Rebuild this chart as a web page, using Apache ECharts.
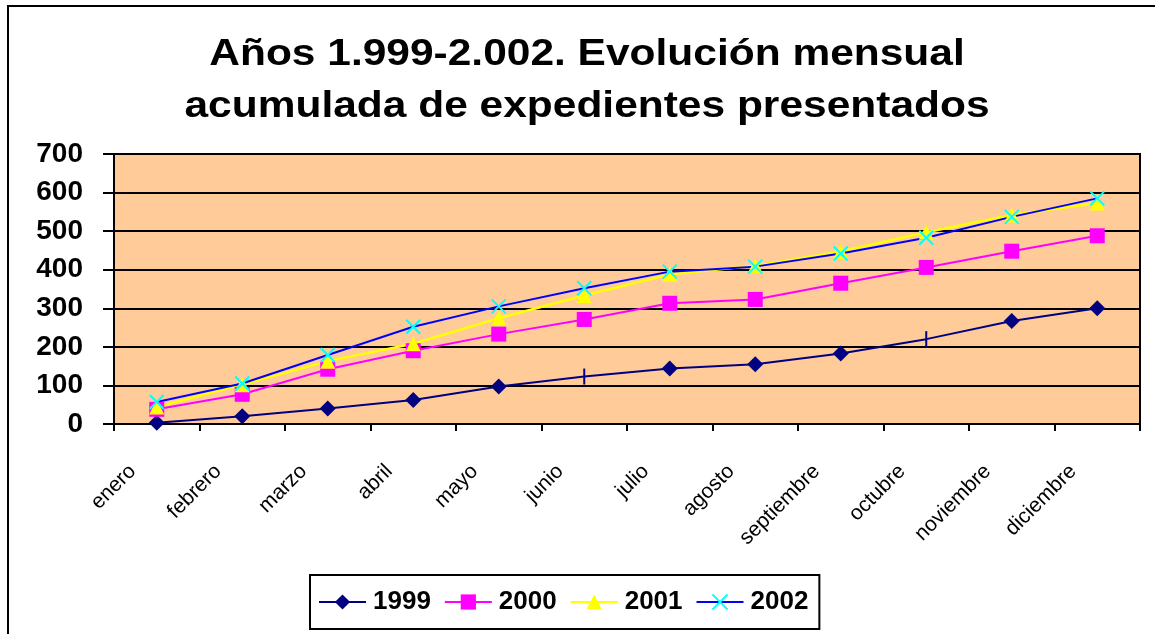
<!DOCTYPE html>
<html>
<head>
<meta charset="utf-8">
<script src="https://cdn.jsdelivr.net/npm/echarts@6/dist/echarts.min.js"></script>
<style>
html,body{margin:0;padding:0;background:#fff;}
#chart{width:1155px;height:634px;}
</style>
</head>
<body>
<div id="chart"></div>
<script>
const months = ['enero','febrero','marzo','abril','mayo','junio','julio','agosto','septiembre','octubre','noviembre','diciembre'];
const yTicks = [0, 100, 200, 300, 400, 500, 600, 700];
const s1999 = [3, 20, 40, 62, 97, 123, 144, 155, 183, 220, 267, 300];
const s2000 = [38, 77, 142, 190, 233, 271, 313, 323, 365, 406, 448, 488];
const s2001 = [44, 102, 163, 208, 274, 333, 388, 410, 447, 497, 542, 573];
const s2002 = [57, 105, 179, 252, 305, 352, 395, 408, 442, 483, 537, 585];
const seriesNames = ['1999', '2000', '2001', '2002'];
const titleText = 'Años 1.999-2.002. Evolución mensual\nacumulada de expedientes presentados';

// points in the 1999 series drawn with a bar-shaped marker in the original
const barMarkIdx = [5, 9];

const chart = echarts.init(document.getElementById('chart'), null, {renderer: 'canvas'});
const font = 'Liberation Sans, Arial, sans-serif';

const d1999 = s1999.map((v, i) => barMarkIdx.includes(i)
  ? {value: v, symbol: 'rect', symbolSize: [2, 16]}
  : v);

chart.setOption({
  animation: false,
  backgroundColor: '#ffffff',
  textStyle: {fontFamily: font},
  graphic: [
    {
      type: 'rect',
      shape: {x: 8, y: 6, width: 1300, height: 800},
      style: {fill: 'none', stroke: '#000', lineWidth: 2},
      silent: true, z: -1
    },
    {
      type: 'text',
      x: 587,
      y: 29,
      scaleX: 1.18,
      scaleY: 1,
      style: {
        text: titleText,
        fontFamily: font,
        fontSize: 36,
        fontWeight: 'bold',
        fill: '#000',
        align: 'center',
        verticalAlign: 'top',
        lineHeight: 52
      },
      silent: true
    }
  ],
  legend: {
    data: seriesNames,
    left: 310,
    top: 575,
    orient: 'horizontal',
    padding: [14, 11, 14, 8],
    itemWidth: 47,
    itemHeight: 19,
    itemGap: 13,
    borderColor: '#000',
    borderWidth: 2,
    textStyle: {fontFamily: font, fontSize: 26, fontWeight: 'bold', color: '#000', padding: [0, 0, 0, 2]}
  },
  grid: {
    left: 114, right: 15, top: 154, bottom: 210,
    show: true,
    backgroundColor: '#FFCC99',
    borderColor: '#000',
    borderWidth: 2
  },
  xAxis: {
    type: 'category',
    data: months,
    boundaryGap: true,
    axisLine: {show: true, lineStyle: {color: '#000', width: 2}},
    axisTick: {show: true, inside: false, length: 7, lineStyle: {color: '#000', width: 2}, alignWithLabel: false},
    axisLabel: {
      rotate: 45,
      interval: 0,
      margin: 20,
      padding: [0, 34, 0, 0],
      fontFamily: font,
      fontSize: 21,
      color: '#000'
    },
    splitLine: {show: false}
  },
  yAxis: {
    type: 'value',
    min: yTicks[0],
    max: yTicks[yTicks.length - 1],
    interval: yTicks[1] - yTicks[0],
    axisLine: {show: true, lineStyle: {color: '#000', width: 2}},
    axisTick: {show: true, length: 11, lineStyle: {color: '#000', width: 2}},
    axisLabel: {margin: 31, fontFamily: font, fontSize: 28, fontWeight: 'bold', color: '#000'},
    splitLine: {show: true, lineStyle: {color: '#000', width: 2}}
  },
  series: [
    {
      name: seriesNames[0], type: 'line', data: d1999,
      symbol: 'diamond', symbolSize: 16,
      lineStyle: {color: '#000080', width: 2},
      itemStyle: {color: '#000080'}
    },
    {
      name: seriesNames[1], type: 'line', data: s2000,
      symbol: 'rect', symbolSize: 15,
      lineStyle: {color: '#FF00FF', width: 2},
      itemStyle: {color: '#FF00FF'}
    },
    {
      name: seriesNames[2], type: 'line', data: s2001,
      symbol: 'triangle', symbolSize: 15,
      lineStyle: {color: '#FFFF00', width: 2.5},
      itemStyle: {color: '#FFFF00'}
    },
    {
      name: seriesNames[3], type: 'line', data: s2002,
      symbol: 'path://M0,0L10,10M10,0L0,10', symbolSize: 14,
      lineStyle: {color: '#0000FF', width: 2},
      itemStyle: {color: '#00FFFF', borderColor: '#00FFFF', borderWidth: 2}
    }
  ]
});
</script>
</body>
</html>
